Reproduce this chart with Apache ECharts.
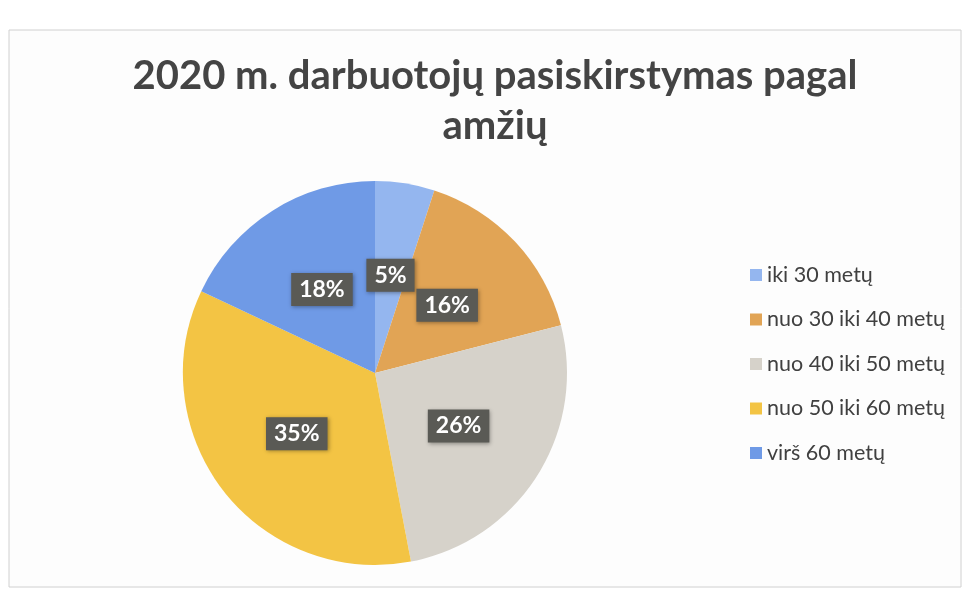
<!DOCTYPE html>
<html>
<head>
<meta charset="utf-8">
<script src="https://cdn.jsdelivr.net/npm/echarts@6/dist/echarts.min.js"></script>
<style>
  html, body { margin: 0; padding: 0; background: #fff; }
  #chart { width: 971px; height: 594px; }
</style>
</head>
<body>
<div id="chart"></div>
<script>
// amžiaus grupės ir jų dalys (%)
const categories = ['iki 30 metų', 'nuo 30 iki 40 metų', 'nuo 40 iki 50 metų', 'nuo 50 iki 60 metų', 'virš 60 metų'];
const values = [5, 16, 26, 35, 18];
const colors = ['#94b6ef', '#e1a455', '#d6d2ca', '#f3c444', '#6f9ae6'];

const myChart = echarts.init(document.getElementById('chart'));

const pieData = categories.map((name, i) => ({
  name: name,
  value: values[i],
  itemStyle: { color: colors[i] },
}));

const option = {
  backgroundColor: '#fff',
  graphic: [
    {
      type: 'rect',
      shape: { x: 9, y: 30, width: 952, height: 557 },
      style: { fill: '#fdfdfd', stroke: '#d0d0d0', lineWidth: 1 },
      z: -10,
    },
  ],
  title: {
    text: '2020 m. darbuotojų pasiskirstymas pagal\namžių',
    left: 490,
    top: 46,
    textAlign: 'center',
    textStyle: {
      fontFamily: 'Lato',
      fontSize: 40,
      fontWeight: 'bold',
      color: '#444',
      lineHeight: 50,
    },
  },
  legend: {
    orient: 'vertical',
    left: 745,
    top: 259,
    itemWidth: 12,
    itemHeight: 12,
    itemGap: 22.5,
    icon: 'rect',
    textStyle: {
      fontFamily: 'Lato',
      fontSize: 21.5,
      color: '#404040',
    },
    data: categories,
  },
  series: [
    {
      type: 'pie',
      center: [375, 373],
      radius: 192,
      startAngle: 90,
      clockwise: true,
      silent: true,
      label: {
        show: true,
        position: 'inside',
        formatter: '{c}%',
        fontFamily: 'Lato',
        fontSize: 23,
        fontWeight: 'bold',
        color: '#fff',
        backgroundColor: '#5a5a55',
        padding: [6, 8, 4, 8],
        shadowColor: 'rgba(0,0,0,0.35)',
        shadowBlur: 4,
        shadowOffsetX: 1,
        shadowOffsetY: 1,
      },
      labelLine: { show: false },
      data: pieData,
    },
  ],
};
myChart.setOption(option);
</script>
</body>
</html>
